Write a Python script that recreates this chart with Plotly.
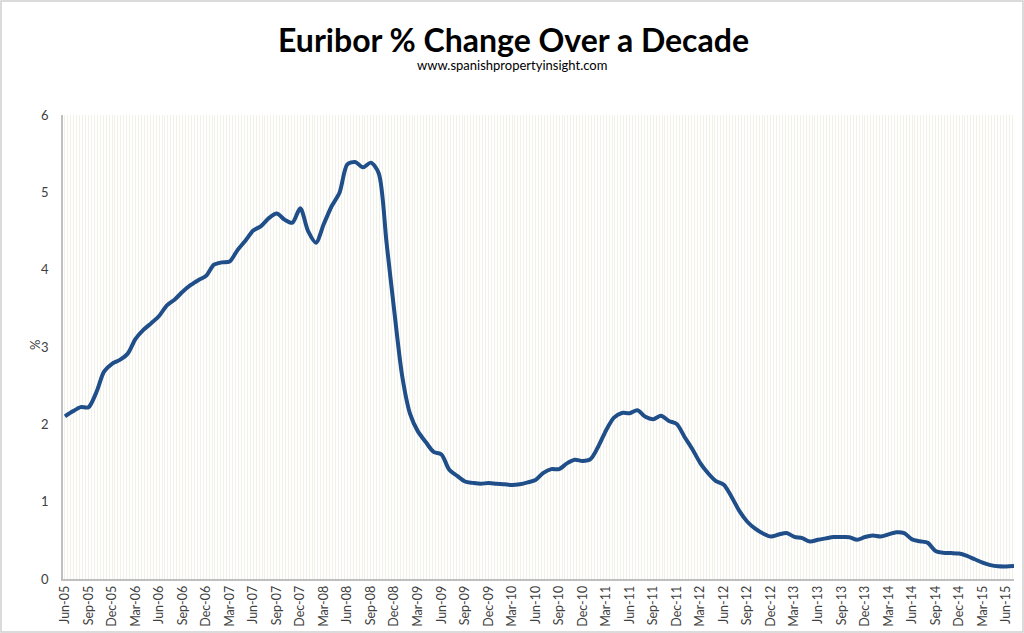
import plotly.graph_objects as go

# Monthly 12-month Euribor (%), Jun-05 .. Jul-15
values = [
    2.103, 2.168, 2.223, 2.220, 2.414, 2.684, 2.783,
    2.833, 2.914, 3.105, 3.221, 3.308, 3.401, 3.539, 3.615, 3.715, 3.799, 3.864, 3.921,
    4.064, 4.094, 4.106, 4.253, 4.373, 4.505, 4.564, 4.666, 4.725, 4.647, 4.607, 4.793,
    4.498, 4.349, 4.590, 4.820, 4.994, 5.361, 5.393, 5.323, 5.384, 5.248, 4.350, 3.452,
    2.622, 2.135, 1.909, 1.771, 1.644, 1.610, 1.412, 1.334, 1.261, 1.243, 1.231, 1.242,
    1.232, 1.225, 1.215, 1.225, 1.249, 1.281, 1.373, 1.421, 1.420, 1.495, 1.541, 1.526,
    1.550, 1.714, 1.924, 2.086, 2.147, 2.144, 2.183, 2.097, 2.067, 2.110, 2.044, 2.004,
    1.837, 1.678, 1.499, 1.368, 1.266, 1.219, 1.061, 0.877, 0.740, 0.650, 0.588, 0.549,
    0.575, 0.594, 0.545, 0.528, 0.484, 0.507, 0.525, 0.542, 0.543, 0.541, 0.506, 0.543,
    0.562, 0.549, 0.577, 0.604, 0.592, 0.513, 0.488, 0.469, 0.362, 0.338, 0.335, 0.329,
    0.298, 0.255, 0.212, 0.180, 0.165, 0.163, 0.167,
]
month_index = list(range(len(values)))

tick_labels = [
    "Jun-05", "Sep-05", "Dec-05", "Mar-06", "Jun-06", "Sep-06", "Dec-06",
    "Mar-07", "Jun-07", "Sep-07", "Dec-07", "Mar-08", "Jun-08", "Sep-08",
    "Dec-08", "Mar-09", "Jun-09", "Sep-09", "Dec-09", "Mar-10", "Jun-10",
    "Sep-10", "Dec-10", "Mar-11", "Jun-11", "Sep-11", "Dec-11", "Mar-12",
    "Jun-12", "Sep-12", "Dec-12", "Mar-13", "Jun-13", "Sep-13", "Dec-13",
    "Mar-14", "Jun-14", "Sep-14", "Dec-14", "Mar-15", "Jun-15",
]
tick_positions = [3 * i for i in range(len(tick_labels))]

y_ticks = [0, 1, 2, 3, 4, 5, 6]

FONT = "Lato"
W, H = 1024, 633
L, R, T, B = 63, 10, 115, 54
pw, ph = W - L - R, H - T - B

def px_x(p):
    return (p - L) / pw

def px_y(p):
    return (H - B - p) / ph

fig = go.Figure()
fig.add_trace(go.Scatter(
    x=month_index, y=values, mode="lines",
    line=dict(color="#1F4E89", width=4, shape="spline", smoothing=0.8),
    hoverinfo="x+y", showlegend=False,
))

STRIPE = "#F1F1E8"
fig.update_layout(
    width=W, height=H,
    margin=dict(l=L, r=R, t=T, b=B, autoexpand=False),
    paper_bgcolor="white", plot_bgcolor="white",
    font=dict(family=FONT, color="#404040", size=12),
    xaxis=dict(
        range=[-0.25, 121.0],
        tickmode="array", tickvals=tick_positions, ticktext=tick_labels,
        tickangle=-90, tickfont=dict(size=12.5, color="#404040", family=FONT),
        showgrid=True, gridcolor=STRIPE, gridwidth=1,
        minor=dict(tickmode="linear", tick0=0, dtick=0.375, showgrid=True,
                   gridcolor=STRIPE, gridwidth=1.2),
        showline=True, linecolor="#BFBFBF", linewidth=1.5,
        ticks="", zeroline=False, automargin=False, fixedrange=True,
    ),
    yaxis=dict(
        range=[0, 6], tickmode="array", tickvals=y_ticks,
        tickfont=dict(size=13, color="#404040", family=FONT),
        showgrid=False, zeroline=False,
        showline=True, linecolor="#BFBFBF", linewidth=1.5,
        ticks="", ticklabelstandoff=10, automargin=False,
    ),
    annotations=[
        dict(text="<b>Euribor % Change Over a Decade</b>", xref="paper", yref="paper",
             x=px_x(513), y=px_y(39), xanchor="center", yanchor="middle",
             showarrow=False, font=dict(size=32, color="black", family=FONT)),
        dict(text="www.spanishpropertyinsight.com", xref="paper", yref="paper",
             x=px_x(512), y=px_y(65), xanchor="center", yanchor="middle",
             showarrow=False, font=dict(size=13, color="black", family=FONT)),
        dict(text="%", xref="paper", yref="paper",
             x=px_x(35), y=px_y(345), xanchor="center", yanchor="middle",
             textangle=-90, showarrow=False,
             font=dict(size=13, color="#404040", family=FONT)),
    ],
    shapes=[
        dict(type="rect", xref="paper", yref="paper",
             x0=px_x(1), x1=px_x(W - 1), y0=px_y(H - 1), y1=px_y(1),
             line=dict(color="#D0D0D0", width=1.5), layer="below"),
    ],
)

fig.write_html("out.html",
               config={"displayModeBar": False},
               post_script="document.body.style.margin='0';document.body.style.overflow='hidden';")
